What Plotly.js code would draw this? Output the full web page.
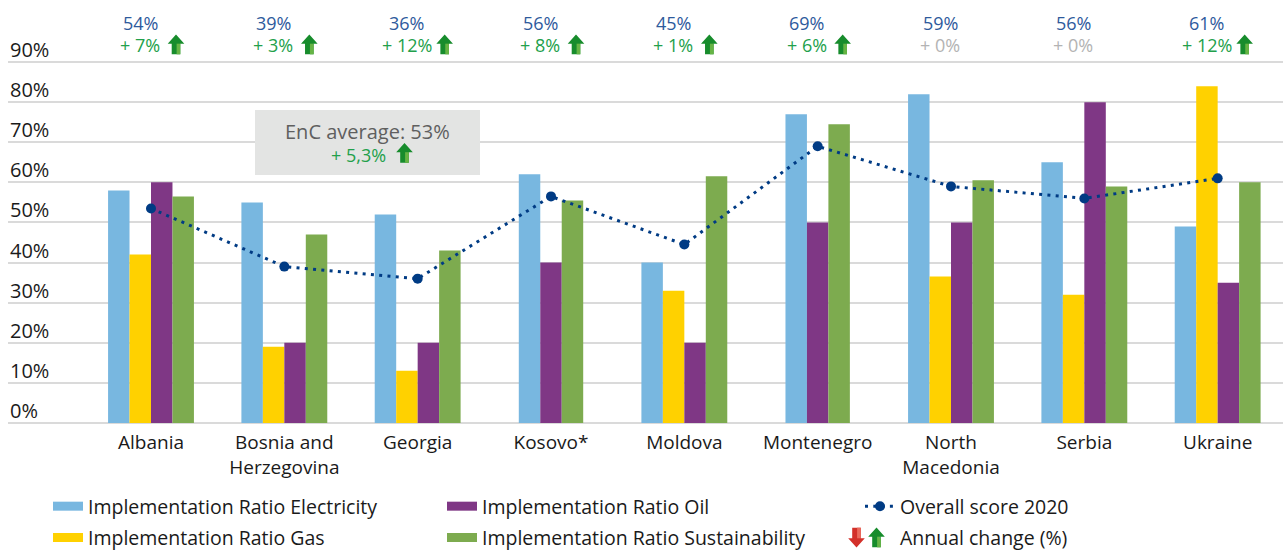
<!DOCTYPE html>
<html><head><meta charset="utf-8">
<script src="https://cdn.plot.ly/plotly-3.0.1.min.js"></script>
<style>html,body{margin:0;padding:0;background:#fff;} #chart{width:1283px;height:550px;}</style>
</head><body><div id="chart"></div>
<script>
// ---- data ----
const countries = ['Albania','Bosnia and<br>Herzegovina','Georgia','Kosovo*','Moldova','Montenegro','North<br>Macedonia','Serbia','Ukraine'];
const electricity    = [58, 55, 52, 62, 40, 77, 82, 65, 49];
const gas            = [42, 19, 13, null, 33, null, 36.5, 32, 84];
const oil            = [60, 20, 20, 40, 20, 50, 50, 80, 35];
const sustainability = [56.5, 47, 43, 55.5, 61.5, 74.5, 60.5, 59, 60];
const overallScore   = [53.5, 39, 36, 56.5, 44.5, 69, 59, 56, 61];
const scoreLabels    = [54, 39, 36, 56, 45, 69, 59, 56, 61];
const annualChange   = [7, 3, 12, 8, 1, 6, 0, 0, 12];
const encAverage = 53;
const encChange = 5.3;
const yTicks = [0,10,20,30,40,50,60,70,80,90];

// ---- styles ----
const seriesDefs = [
  {name:'Implementation Ratio Electricity', values:electricity, color:'#78b7e0', legend:'legend'},
  {name:'Implementation Ratio Gas', values:gas, color:'#ffd100', legend:'legend'},
  {name:'Implementation Ratio Oil', values:oil, color:'#7f3785', legend:'legend2'},
  {name:'Implementation Ratio Sustainability', values:sustainability, color:'#7dab4f', legend:'legend2'}
];
const W = 1283, H = 550, ML = 8, MR = 0, MT = 38, MB = 127;
const PW = W - ML - MR, PH = H - MT - MB;
const px = v => (v - ML) / PW;          // pixel x -> paper
const py = v => (H - MB - v) / PH;      // pixel y -> paper
const barW = 0.161;
const blue = '#2e5a9c', green = '#22a04b', grey = '#b3b3b3';

// offsets: bars of a category are centred, skipping missing series
const offsets = seriesDefs.map(() => []);
countries.forEach((c, i) => {
  const present = [];
  seriesDefs.forEach((s, k) => { if (s.values[i] != null) present.push(k); });
  const n = present.length;
  seriesDefs.forEach((s, k) => { offsets[k][i] = 0; });
  present.forEach((k, pos) => { offsets[k][i] = (pos - n / 2) * barW; });
});

const traces = [];
seriesDefs.forEach((s, k) => {
  traces.push({
    type:'bar', x:countries, y:s.values, offset:offsets[k], width:barW,
    marker:{color:s.color, line:{width:0}}, showlegend:false, hoverinfo:'skip'
  });
});
// legend swatches
seriesDefs.forEach((s, k) => {
  traces.push({
    type:'scatter', mode:'lines', x:[null], y:[null], name:s.name,
    line:{color:s.color, width:9}, legend:s.legend, legendgroup:'g'+k, showlegend:true, hoverinfo:'skip'
  });
});
traces.push({
  type:'scatter', mode:'lines+markers', x:countries, y:overallScore, name:'Overall score 2020',
  line:{color:'#003b84', width:3, dash:'3px,5.3px'}, marker:{size:10, color:'#003b84'},
  legend:'legend3', legendgroup:'g5', hoverinfo:'skip'
});
traces.push({
  type:'scatter', mode:'markers', x:[null], y:[null], name:'Annual change (%)',
  marker:{size:1, opacity:0}, legend:'legend3', legendgroup:'g6', showlegend:true, hoverinfo:'skip'
});

// arrows as pixel-sized shapes
function arrow(xref, xa, yref, ya, dir, shift) {
  shift = shift || 0;
  const dark = dir > 0 ? '#178c2c' : '#d3302a';
  const light = dir > 0 ? '#66b444' : '#ea6a5c';
  const P = pts => 'M' + pts.map(p => (p[0] + shift).toFixed(1) + ',' + (p[1] * dir).toFixed(1)).join(' L') + ' Z';
  const full = [[0,10],[8.3,0.8],[4.3,0.8],[4.3,-9.8],[-4.3,-9.8],[-4.3,0.8],[-8.3,0.8]];
  const lite = [[0.6,0.8],[4.3,0.8],[4.3,-9.8],[0.6,-9.8]];
  const base = {type:'path', xref:xref, yref:yref, xsizemode:'pixel', ysizemode:'pixel',
                xanchor:xa, yanchor:ya, line:{width:0}, layer:'above'};
  return [Object.assign({}, base, {path:P(full), fillcolor:dark}),
          Object.assign({}, base, {path:P(lite), fillcolor:light})];
}

const annotations = [];
let shapes = [];

// y-axis labels sitting above their gridlines
yTicks.forEach(v => {
  annotations.push({xref:'paper', yref:'y', x:0, y:v, xanchor:'left', yanchor:'bottom', yshift:-3,
    text:v + '%', showarrow:false, font:{size:20, color:'#1a1a1a'}});
});

countries.forEach((c, i) => {
  annotations.push({x:i, xref:'x', y:py(23), yref:'paper', xshift:-11, text:scoreLabels[i] + '%',
    showarrow:false, xanchor:'center', yanchor:'middle', font:{size:18, color:blue}});
  const ch = annualChange[i];
  annotations.push({x:i, xref:'x', y:py(45), yref:'paper', xshift:-11,
    text:(ch < 0 ? '- ' : '+ ') + Math.abs(ch) + '%',
    showarrow:false, xanchor:'center', yanchor:'middle',
    font:{size:18, color: ch > 0 ? green : (ch < 0 ? '#d3302a' : grey)}});
  if (ch !== 0) {
    const shift = Math.abs(ch) >= 10 ? 27 : 25;
    shapes = shapes.concat(arrow('x', i, 'paper', py(44.5), ch > 0 ? 1 : -1, shift));
  }
});

// EnC average box
shapes.push({type:'rect', xref:'paper', yref:'paper', x0:px(255), x1:px(480), y0:py(175), y1:py(110),
  fillcolor:'#e3e4e3', line:{width:0}, layer:'above'});
annotations.push({xref:'paper', yref:'paper', x:px(367), y:py(131.5), text:'EnC average: ' + encAverage + '%',
  showarrow:false, xanchor:'center', yanchor:'middle', font:{size:20, color:'#5f5f5f'}});
annotations.push({xref:'paper', yref:'paper', x:px(359), y:py(155), text:'+ ' + String(encChange).replace('.', ',') + '%',
  showarrow:false, xanchor:'center', yanchor:'middle', font:{size:18, color:green}});
shapes = shapes.concat(arrow('paper', px(404.5), 'paper', py(153), 1));

// legend arrows
shapes = shapes.concat(arrow('paper', px(856.5), 'paper', py(537.5), -1));
shapes = shapes.concat(arrow('paper', px(876.5), 'paper', py(537.5), 1));

const legendBase = {orientation:'v', xanchor:'left', yanchor:'top', y:py(487),
  font:{size:19.5, color:'#1a1a1a', family:'Open Sans, sans-serif'}, bgcolor:'rgba(0,0,0,0)',
  borderwidth:0, tracegroupgap:3, itemwidth:30, itemclick:false, itemdoubleclick:false};

const layout = {
  width:W, height:H,
  margin:{l:ML, r:MR, t:MT, b:MB, pad:0, autoexpand:false},
  paper_bgcolor:'#ffffff', plot_bgcolor:'#ffffff',
  font:{family:'Open Sans, sans-serif', color:'#1a1a1a'},
  barmode:'overlay',
  xaxis:{type:'category', range:[-1.0725, 8.49], showgrid:false, zeroline:false, showline:false,
    ticks:'', ticklabelstandoff:6, tickfont:{size:19, color:'#1a1a1a'}, fixedrange:true},
  yaxis:{range:[0, 96], tickvals:yTicks, showticklabels:false,
    showgrid:true, gridcolor:'#dadada', gridwidth:2, zeroline:true, zerolinecolor:'#dadada', zerolinewidth:2,
    showline:false, ticks:'', fixedrange:true},
  showlegend:true,
  legend:Object.assign({}, legendBase, {x:px(48)}),
  legend2:Object.assign({}, legendBase, {x:px(442)}),
  legend3:Object.assign({}, legendBase, {x:px(860)}),
  annotations:annotations,
  shapes:shapes
};

Plotly.newPlot('chart', traces, layout, {displayModeBar:false, staticPlot:true});
</script>
</body></html>
